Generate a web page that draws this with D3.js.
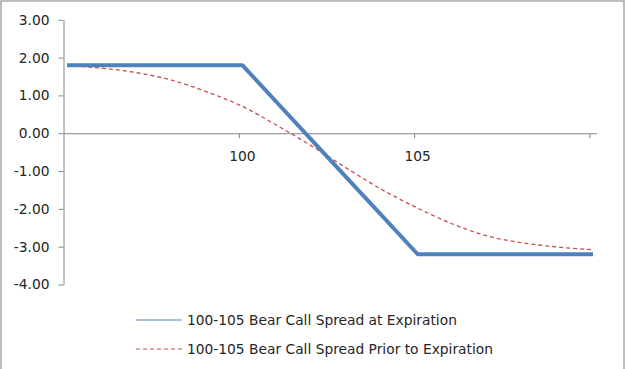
<!DOCTYPE html>
<html>
<head>
<meta charset="utf-8">
<script src="https://cdn.jsdelivr.net/npm/d3@7"></script>
<style>
  html, body { margin: 0; padding: 0; background: #fff; }
  svg { display: block; font-family: "DejaVu Sans", Verdana, sans-serif; }
</style>
</head>
<body>
<svg id="chart" width="626" height="369"></svg>
<script>
// ---- data ----
const prices = [95, 96, 97, 98, 99, 100, 101, 102, 103, 104, 105, 106, 107, 108, 109, 110];
const expiration = [1.80, 1.80, 1.80, 1.80, 1.80, 1.80, 0.80, -0.20, -1.20, -2.20, -3.20, -3.20, -3.20, -3.20, -3.20, -3.20];
const priorToExpiration = [1.79, 1.72, 1.60, 1.40, 1.09, 0.71, 0.20, -0.35, -0.94, -1.50, -1.98, -2.40, -2.72, -2.90, -3.01, -3.08];
const yTicks = [-4, -3, -2, -1, 0, 1, 2, 3];
const xTickMarks = [99.9, 104.9, 109.9];
const xLabels = [100, 105];
const seriesNames = ["100-105 Bear Call Spread at Expiration", "100-105 Bear Call Spread Prior to Expiration"];

const blue = "#4F81BD", red = "#C0504D", axisCol = "#868686", textCol = "#262626";

const svg = d3.select("#chart");

// outer border
svg.append("rect").attr("x", 1).attr("y", 1).attr("width", 623).attr("height", 372)
  .attr("fill", "none").attr("stroke", "#a6a6a6").attr("stroke-width", 1.5);

const x = d3.scaleLinear().domain([94.9, 110.1]).range([63.5, 596.5]);
const y = d3.scaleLinear().domain([-4, 3]).range([284.5, 19.8]);

// y axis
const yAxis = svg.append("g").attr("transform", "translate(63.5,0)")
  .call(d3.axisLeft(y).tickValues(yTicks).tickFormat(d => d.toFixed(2)).tickSize(5).tickSizeOuter(0).tickPadding(9));
yAxis.selectAll("path, line").attr("stroke", axisCol);
yAxis.selectAll("text").attr("fill", textCol).style("font-size", "13.8px").style("font-family", "'DejaVu Sans', sans-serif");

// x axis at y=0
const xAxis = svg.append("g").attr("transform", `translate(0,${y(0)})`)
  .call(d3.axisBottom(x).tickValues(xTickMarks).tickFormat("").tickSize(5).tickSizeOuter(0));
xAxis.selectAll("path, line").attr("stroke", axisCol);

svg.append("g").selectAll("text").data(xLabels).join("text")
  .attr("x", d => x(d)).attr("y", y(0) + 28)
  .attr("text-anchor", "middle").attr("fill", textCol).style("font-size", "13.8px")
  .text(d => d);

// lines
const lineExp = d3.line().x((d, i) => x(prices[i])).y(d => y(d));
const linePrior = d3.line().x((d, i) => x(prices[i])).y(d => y(d)).curve(d3.curveMonotoneX);

svg.append("path").datum(priorToExpiration).attr("d", linePrior)
  .attr("fill", "none").attr("stroke", red).attr("stroke-width", 1.3).attr("stroke-dasharray", "4,3");

svg.append("path").datum(expiration).attr("d", lineExp)
  .attr("fill", "none").attr("stroke", blue).attr("stroke-width", 4).attr("stroke-linejoin", "round");

// legend
const legend = svg.append("g");
const legendRows = [
  { name: seriesNames[0], color: blue, dash: null, y: 320 },
  { name: seriesNames[1], color: red, dash: "4,3", y: 349 }
];
legendRows.forEach(r => {
  legend.append("line").attr("x1", 136).attr("x2", 182).attr("y1", r.y).attr("y2", r.y)
    .attr("stroke", r.color).attr("stroke-width", 1.2).attr("stroke-dasharray", r.dash);
  legend.append("text").attr("x", 187).attr("y", r.y + 5)
    .attr("fill", textCol).style("font-size", "13.8px").text(r.name);
});
</script>
</body>
</html>
